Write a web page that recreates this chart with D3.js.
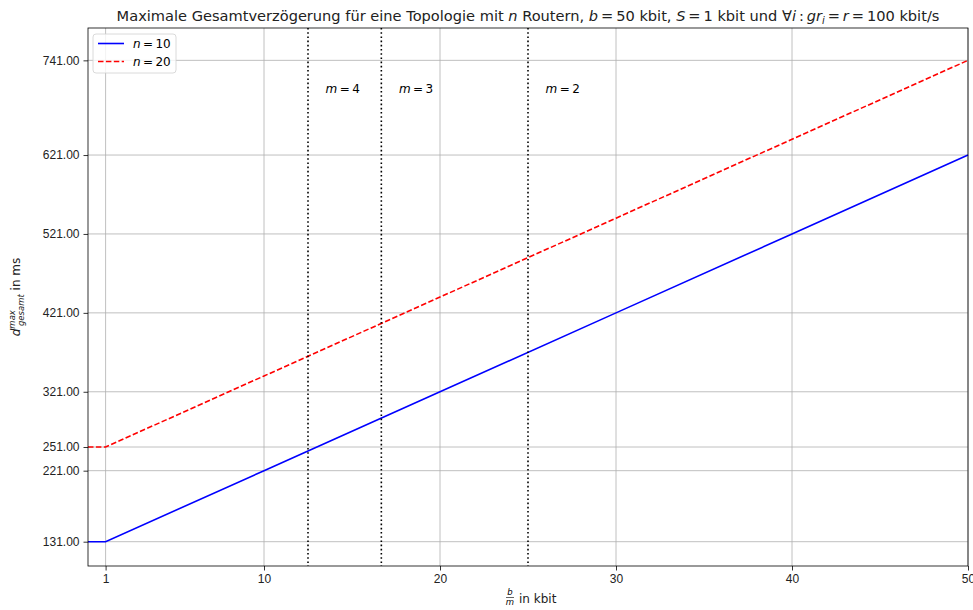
<!DOCTYPE html>
<html>
<head>
<meta charset="utf-8">
<script src="https://cdn.jsdelivr.net/npm/d3@7"></script>
<style>
  body { margin: 0; background: #fff; }
  svg { font-family: "DejaVu Sans", sans-serif; }
  .grid line { stroke: #b0b0b0; stroke-width: 0.8px; }
  .axis path, .axis line { stroke: #000; stroke-width: 0.8px; }
  .axis text { font-size: 12px; fill: #222; }
</style>
</head>
<body>
<div id="chart"></div>
<script>
// values
var bOverM = [0, 1, 10, 20, 30, 40, 50];
var delayN10 = [131, 131, 221, 321, 421, 521, 621];
var delayN20 = [251, 251, 341, 441, 541, 641, 741];
var mValues = ["4", "3", "2"];
var mPositions = [12.5, 16.667, 25];
var xTicks = [1, 10, 20, 30, 40, 50];
var yTicks = [131, 221, 251, 321, 421, 521, 621, 741];

var margin = {top: 28, right: 5, bottom: 44, left: 88};
var width = 973 - margin.left - margin.right,
    height = 610 - margin.top - margin.bottom;

var xScale = d3.scaleLinear().domain([0, 50]).range([0, width]);
var yScale = d3.scaleLinear().domain([100.2, 782]).range([height, 0]);

var svg = d3.select("#chart").append("svg")
    .attr("width", 973)
    .attr("height", 610);
var g = svg.append("g")
    .attr("transform", "translate(" + margin.left + "," + margin.top + ")");

// grid
g.append("g").attr("class", "grid")
  .selectAll("line").data(xTicks).enter().append("line")
    .attr("x1", function(d) { return xScale(d); })
    .attr("x2", function(d) { return xScale(d); })
    .attr("y1", 0).attr("y2", height);
g.append("g").attr("class", "grid")
  .selectAll("line").data(yTicks).enter().append("line")
    .attr("y1", function(d) { return yScale(d); })
    .attr("y2", function(d) { return yScale(d); })
    .attr("x1", 0).attr("x2", width);

var series = [
  {id: "10", values: delayN10, color: "#0000ff", dash: null},
  {id: "20", values: delayN20, color: "#ff0000", dash: "5.5,2.4"}
];

var line = d3.line()
    .x(function(d) { return xScale(d[0]); })
    .y(function(d) { return yScale(d[1]); });

g.selectAll(".trend").data(series).enter().append("path")
    .attr("class", "trend")
    .attr("d", function(s) { return line(bOverM.map(function(x, i) { return [x, s.values[i]]; })); })
    .style("fill", "none")
    .style("stroke", function(s) { return s.color; })
    .style("stroke-width", "1.6px")
    .style("stroke-dasharray", function(s) { return s.dash; });

// vertical m lines
var mG = g.selectAll(".mline").data(mPositions).enter().append("g").attr("class", "mline");
mG.append("line")
    .attr("x1", function(d) { return xScale(d); })
    .attr("x2", function(d) { return xScale(d); })
    .attr("y1", 0).attr("y2", height)
    .style("stroke", "#000")
    .style("stroke-width", "1.6px")
    .style("stroke-dasharray", "1.6,2.6");
var mText = mG.append("text")
    .attr("x", function(d) { return xScale(d + 1); })
    .attr("y", yScale(700))
    .style("font-size", "12px");
mText.append("tspan").style("font-style", "italic").text("m");
mText.append("tspan").text(function(d, i) { return "\u2009=\u2009" + mValues[i]; });

// axes
var xAxis = d3.axisBottom(xScale).tickValues(xTicks).tickFormat(d3.format("d")).tickSizeOuter(0).tickSize(4.5).tickPadding(4);
var yAxis = d3.axisLeft(yScale).tickValues(yTicks).tickFormat(d3.format(".2f")).tickSizeOuter(0).tickSize(4.5).tickPadding(4);
g.append("g").attr("class", "axis").attr("transform", "translate(0," + height + ")").call(xAxis);
g.append("g").attr("class", "axis").call(yAxis);
g.selectAll(".axis .domain").remove();

// frame
g.append("rect")
    .attr("width", width).attr("height", height)
    .style("fill", "none").style("stroke", "#000").style("stroke-width", "0.8px");

// legend
var legend = g.append("g").attr("transform", "translate(5,6)");
legend.append("rect")
    .attr("width", 83).attr("height", 39).attr("rx", 3)
    .style("fill", "#fff").style("fill-opacity", 0.8)
    .style("stroke", "#d0d0d0").style("stroke-width", "0.8px");
var items = legend.selectAll(".item").data(series).enter().append("g")
    .attr("transform", function(d, i) { return "translate(0," + (9.5 + i * 18) + ")"; });
items.append("line")
    .attr("x1", 5).attr("x2", 31)
    .style("stroke", function(d) { return d.color; })
    .style("stroke-width", "1.6px")
    .style("stroke-dasharray", function(d) { return d.dash; });
var lt = items.append("text").attr("x", 40).attr("dy", "0.35em").style("font-size", "12px");
lt.append("tspan").style("font-style", "italic").text("n");
lt.append("tspan").text(function(d) { return "\u2009=\u2009" + d.id; });

// title
var title = svg.append("text")
    .attr("x", margin.left + width / 2).attr("y", 21)
    .attr("text-anchor", "middle")
    .style("font-size", "14.6px").style("fill", "#222");
function part(el, txt, it) { el.append("tspan").style("font-style", it ? "italic" : "normal").text(txt); }
part(title, "Maximale Gesamtverzögerung für eine Topologie mit ");
part(title, "n", true);
part(title, " Routern, ");
part(title, "b", true);
part(title, "\u2009=\u200950 kbit, ");
part(title, "S", true);
part(title, "\u2009=\u20091 kbit und \u2200");
part(title, "i", true);
part(title, "\u2009:\u2009");
part(title, "gr", true);
title.append("tspan").style("font-style", "italic").style("font-size", "10px").attr("dy", 3).text("i");
title.append("tspan").attr("dy", -3).text("\u2009=\u2009");
part(title, "r", true);
part(title, "\u2009=\u2009100 kbit/s");

// y label
var yl = svg.append("text")
    .attr("transform", "translate(20," + (margin.top + height / 2) + ") rotate(-90)")
    .attr("text-anchor", "middle")
    .style("font-size", "12px").style("fill", "#222");
yl.append("tspan").style("font-style", "italic").text("d");
yl.append("tspan").style("font-style", "italic").style("font-size", "8.5px").attr("dy", -5).text("max");
yl.append("tspan").style("font-style", "italic").style("font-size", "8.5px").attr("dx", -16).attr("dy", 9).text("gesamt");
yl.append("tspan").attr("dy", -4).text(" in ms");

// x label
var xl = svg.append("g").attr("transform", "translate(" + (margin.left + width / 2) + ",600)");
xl.append("text").attr("x", -18).attr("y", -5).attr("text-anchor", "middle")
    .style("font-size", "8.5px").style("font-style", "italic").text("b");
xl.append("line").attr("x1", -22).attr("x2", -14).attr("y1", -2.5).attr("y2", -2.5)
    .style("stroke", "#222").style("stroke-width", "0.7px");
xl.append("text").attr("x", -18).attr("y", 5).attr("text-anchor", "middle")
    .style("font-size", "8.5px").style("font-style", "italic").text("m");
xl.append("text").attr("x", -9).attr("y", 3).style("font-size", "12px").style("fill", "#222").text("in kbit");
</script>
</body>
</html>
